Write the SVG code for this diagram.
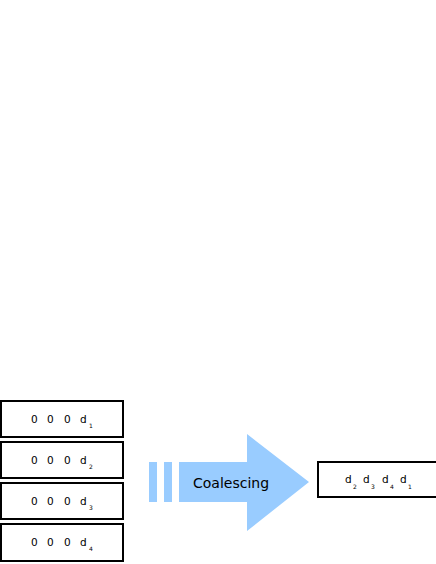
<svg xmlns="http://www.w3.org/2000/svg" width="436" height="564" viewBox="0 0 436 564">
<style>
.box{fill:#fff;stroke:#000;stroke-width:2}
.t{font-family:"DejaVu Sans",sans-serif;font-size:10.5px;fill:#000}
.s{font-family:"DejaVu Sans",sans-serif;font-size:6px;fill:#000}
.arrow{fill:#99ccff}
.lbl{font-family:"DejaVu Sans",sans-serif;font-size:14px;fill:#000}
</style>
<rect width="436" height="564" fill="#fff"/>
<g id="word1"><rect class="box" x="1" y="401" width="122" height="36"/>
<text class="t" y="423"><tspan x="31">0</tspan><tspan x="47">0</tspan><tspan x="64">0</tspan><tspan x="80">d</tspan></text><text class="s" x="89" y="428">1</text></g>
<g id="word2"><rect class="box" x="1" y="442" width="122" height="36"/>
<text class="t" y="464"><tspan x="31">0</tspan><tspan x="47">0</tspan><tspan x="64">0</tspan><tspan x="80">d</tspan></text><text class="s" x="89" y="469">2</text></g>
<g id="word3"><rect class="box" x="1" y="483" width="122" height="36"/>
<text class="t" y="505"><tspan x="31">0</tspan><tspan x="47">0</tspan><tspan x="64">0</tspan><tspan x="80">d</tspan></text><text class="s" x="89" y="510">3</text></g>
<g id="word4"><rect class="box" x="1" y="524" width="122" height="37"/>
<text class="t" y="546"><tspan x="31">0</tspan><tspan x="47">0</tspan><tspan x="64">0</tspan><tspan x="80">d</tspan></text><text class="s" x="89" y="551">4</text></g>
<g id="coalescing">
<rect class="arrow" x="149" y="462" width="8" height="40"/>
<rect class="arrow" x="164" y="462" width="8" height="40"/>
<polygon class="arrow" points="179,462 247,462 247,434 309,482 247,531 247,502 179,502"/>
<text class="lbl" x="193" y="488">Coalescing</text>
</g>
<g id="result"><rect class="box" x="318" y="462" width="120" height="35"/>
<text class="t" y="483"><tspan x="345">d</tspan><tspan x="363">d</tspan><tspan x="382">d</tspan><tspan x="400">d</tspan></text>
<text class="s" y="489"><tspan x="353">2</tspan><tspan x="371">3</tspan><tspan x="390">4</tspan><tspan x="408">1</tspan></text></g>
<g id="connectors"></g>
</svg>
